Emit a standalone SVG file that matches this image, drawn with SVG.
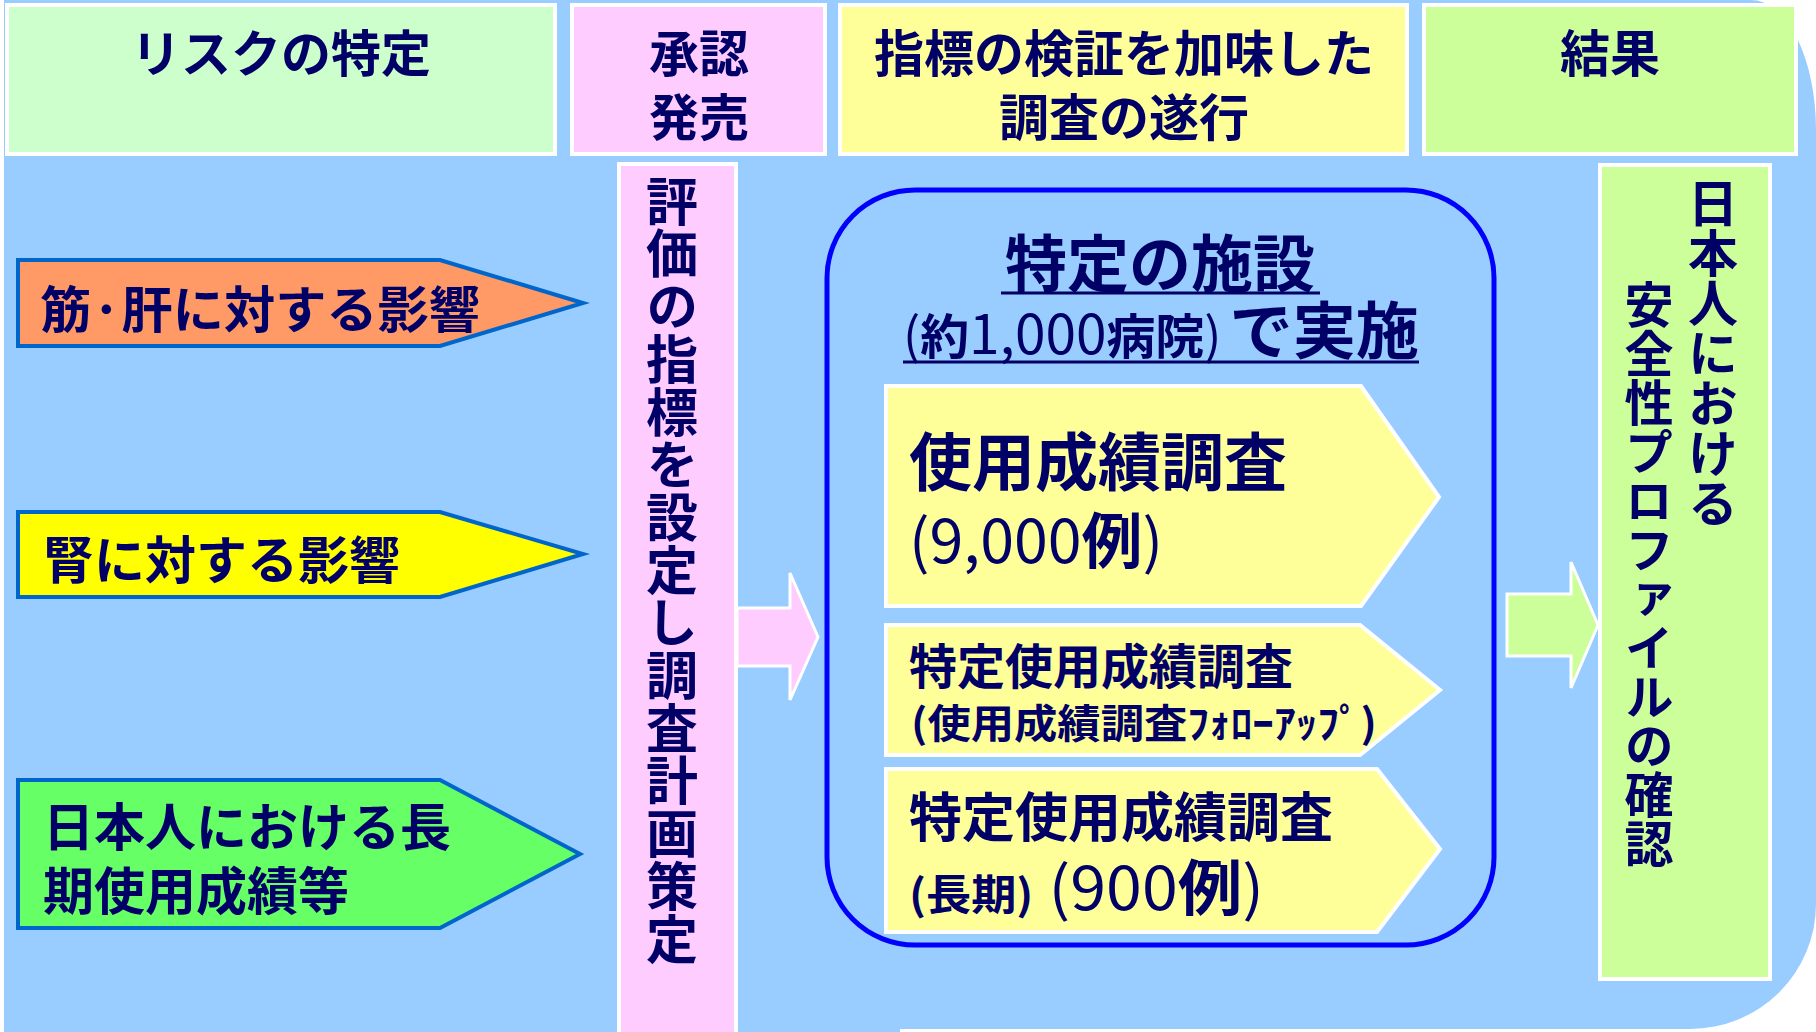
<svg xmlns="http://www.w3.org/2000/svg" width="1816" height="1032" viewBox="0 0 1816 1032">
<defs>
<style>
.t{font-family:"Noto Sans CJK JP","Noto Sans",sans-serif;font-weight:bold;fill:#000066}
.n{font-weight:normal}
.hdr{stroke:#fff;stroke-width:4}
.lar{stroke:#0066CC;stroke-width:4}
.pen{fill:#FFFF99;stroke:#fff;stroke-width:4}
.vt{writing-mode:vertical-rl;text-orientation:upright}
</style>
</defs>
<rect x="0" y="0" width="1816" height="1032" fill="#fff"/>
<path d="M4,0 H1751 A65,130 0 0 1 1816,130 V904 A126,125 0 0 1 1690,1029 H900 V1032 H4 Z" fill="#99CCFF"/>

<g id="header-risk">
<rect class="hdr" x="7" y="5" width="548" height="149" fill="#CCFFCC"/>
<text class="t" x="281" y="72" font-size="50" text-anchor="middle">リスクの特定</text>
</g>
<g id="header-approval">
<rect class="hdr" x="572" y="5" width="253" height="149" fill="#FFCCFF"/>
<text class="t" x="699" y="72" font-size="50" text-anchor="middle">承認</text>
<text class="t" x="699" y="136" font-size="50" text-anchor="middle">発売</text>
</g>
<g id="header-survey">
<rect class="hdr" x="840" y="5" width="567" height="149" fill="#FFFF99"/>
<text class="t" x="1124" y="72" font-size="50" text-anchor="middle">指標の検証を加味した</text>
<text class="t" x="1124" y="136" font-size="50" text-anchor="middle">調査の遂行</text>
</g>
<g id="header-result">
<rect class="hdr" x="1424" y="5" width="372" height="149" fill="#CCFF99"/>
<text class="t" x="1610" y="72" font-size="50" text-anchor="middle">結果</text>
</g>

<g id="risk-muscle-liver">
<polygon class="lar" points="18,260 440,260 583,303 440,346 18,346" fill="#FF9966"/>
<text class="t" x="40" y="328" font-size="50" textLength="440" lengthAdjust="spacingAndGlyphs">筋·肝に対する影響</text>
</g>
<g id="risk-kidney">
<polygon class="lar" points="18,512 440,512 583,554 440,597 18,597" fill="#FFFF00"/>
<text class="t" x="43" y="579" font-size="51">腎に対する影響</text>
</g>
<g id="risk-longterm">
<polygon class="lar" points="18,780 440,780 580,854 440,928 18,928" fill="#66FF66"/>
<text class="t" x="43" y="846" font-size="51">日本人における長</text>
<text class="t" x="43" y="910" font-size="51">期使用成績等</text>
</g>

<g id="plan-bar">
<rect x="619" y="164" width="117" height="872" fill="#FFCCFF" stroke="#fff" stroke-width="4"/>
<text class="t vt" x="672" y="175" font-size="52" letter-spacing="0.7">評価の指標を設定し調査計画策定</text>
</g>

<g id="facility-box">
<rect x="827" y="190" width="667" height="755" rx="88" ry="88" fill="none" stroke="#0000FF" stroke-width="5"/>
<text class="t" x="1160" y="287" font-size="62" text-anchor="middle">特定の施設</text>
<line x1="1001" y1="293" x2="1320" y2="293" stroke="#000066" stroke-width="3"/>
<text class="t" x="903" y="354" textLength="516" lengthAdjust="spacingAndGlyphs"><tspan font-size="50" class="n">(</tspan><tspan font-size="48">約</tspan><tspan font-size="54" class="n">1,000</tspan><tspan font-size="48">病院</tspan><tspan font-size="50" class="n">)</tspan><tspan font-size="62" dx="8">で実施</tspan></text>
<line x1="903" y1="362" x2="1419" y2="362" stroke="#000066" stroke-width="3"/>
</g>

<g id="survey-general">
<polygon class="pen" points="886,386 1361,386 1439,497 1361,606 886,606"/>
<text class="t" x="909" y="485" font-size="63">使用成績調査</text>
<text class="t" x="909" y="563" font-size="60" textLength="254" lengthAdjust="spacingAndGlyphs"><tspan class="n">(9,000</tspan>例<tspan class="n">)</tspan></text>
</g>
<g id="survey-followup">
<polygon class="pen" points="886,625 1360,625 1440,690 1360,755 886,755"/>
<text class="t" x="909" y="684" font-size="48">特定使用成績調査</text>
<text class="t" x="911" y="738" font-size="40" textLength="466" lengthAdjust="spacingAndGlyphs">(使用成績調査ﾌｫﾛｰｱｯﾌﾟ)</text>
</g>
<g id="survey-longterm">
<polygon class="pen" points="886,769 1377,769 1440,849 1377,932 886,932"/>
<text class="t" x="909" y="837" font-size="53">特定使用成績調査</text>
<text class="t" x="909" y="910" textLength="355" lengthAdjust="spacingAndGlyphs"><tspan font-size="42">(長期)</tspan><tspan font-size="60" class="n" dx="14">(900</tspan><tspan font-size="60">例</tspan><tspan font-size="60" class="n">)</tspan></text>
</g>

<g id="result-box">
<rect x="1600" y="165" width="170" height="814" fill="#CCFF99" stroke="#fff" stroke-width="4"/>
<text class="t vt" x="1713" y="178" font-size="50">日本人における</text>
<text class="t vt" x="1649" y="280" font-size="49">安全性プロファイルの確認</text>
</g>

<g id="connectors">
<polygon points="737,608 790,608 790,573 818,637 790,700 790,666 737,666" fill="#FFCCFF" stroke="#fff" stroke-width="3"/>
<polygon points="1507,594 1571,594 1571,562 1598,625 1571,688 1571,656 1507,656" fill="#CCFF99" stroke="#fff" stroke-width="3"/>
</g>
</svg>
